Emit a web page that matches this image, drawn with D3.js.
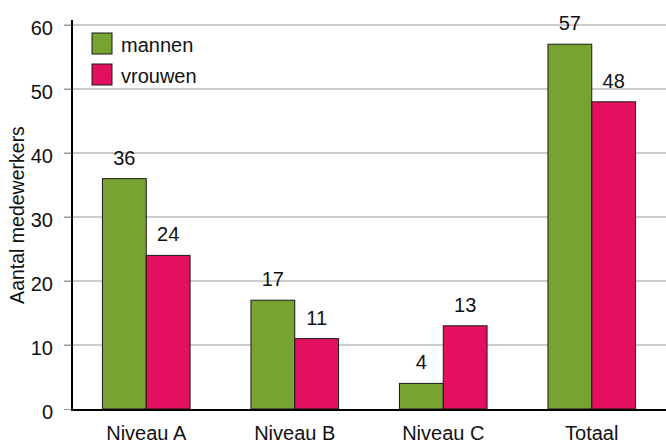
<!DOCTYPE html>
<html>
<head>
<meta charset="utf-8">
<script src="https://cdn.jsdelivr.net/npm/d3@7"></script>
<style>
  html, body { margin: 0; padding: 0; background: #fff; }
  svg text { font-family: "Liberation Sans", Arial, sans-serif; fill: #111; }
</style>
</head>
<body>
<div id="chart"></div>
<script>
var CATEGORIES = ["Niveau A", "Niveau B", "Niveau C", "Totaal"];
var SERIES     = ["mannen", "vrouwen"];
var MANNEN     = [36, 17, 4, 57];
var VROUWEN    = [24, 11, 13, 48];
var Y_TICKS    = [0, 10, 20, 30, 40, 50, 60];
var COLORS     = { mannen: "#78a232", vrouwen: "#e31060" };

var W = 666, H = 444;
var margin = { top: 25, right: 0, bottom: 35, left: 72 };
var iW = W - margin.left - margin.right;
var iH = H - margin.top - margin.bottom;
var FONT = "'Liberation Sans', Arial, sans-serif";

var svg = d3.select("#chart").append("svg")
    .attr("width", W).attr("height", H);
var g = svg.append("g")
    .attr("transform", "translate(" + margin.left + "," + margin.top + ")");

var x0 = d3.scaleBand().domain(CATEGORIES).range([0, iW])
    .paddingInner(0.41).paddingOuter(0.205);
var x1 = d3.scaleBand().domain(SERIES).range([0, x0.bandwidth()]);
var y = d3.scaleLinear().domain([0, 60]).range([iH, 0]);

// grid
g.append("g").selectAll("line").data(Y_TICKS.slice(1)).enter().append("line")
    .attr("x1", -8).attr("x2", iW)
    .attr("y1", function (d) { return y(d); })
    .attr("y2", function (d) { return y(d); })
    .attr("stroke", "#9a9a9a").attr("stroke-width", 1);

// y axis
var ya = g.append("g").call(d3.axisLeft(y).tickValues(Y_TICKS).tickSize(8).tickSizeOuter(0));
ya.select(".domain").remove();
ya.selectAll("line").attr("stroke", "#9a9a9a");
ya.selectAll("text").attr("x", -19).attr("dy", "0.46em").style("font-size", "20px")
    .style("font-family", FONT).attr("fill", "#111");

var data = CATEGORIES.map(function (c, i) {
    return { cat: c, vals: [{ key: "mannen", v: MANNEN[i] }, { key: "vrouwen", v: VROUWEN[i] }] };
});

var grp = g.selectAll(".grp").data(data).enter().append("g")
    .attr("transform", function (d) { return "translate(" + x0(d.cat) + ",0)"; });

grp.selectAll("rect").data(function (d) { return d.vals; }).enter().append("rect")
    .attr("x", function (d) { return x1(d.key); })
    .attr("width", x1.bandwidth())
    .attr("y", function (d) { return y(d.v); })
    .attr("height", function (d) { return iH - y(d.v); })
    .attr("fill", function (d) { return COLORS[d.key]; })
    .attr("stroke", "#1a1a1a").attr("stroke-width", 1);

grp.selectAll(".val").data(function (d) { return d.vals; }).enter().append("text")
    .attr("class", "val")
    .attr("x", function (d) { return x1(d.key) + x1.bandwidth() / 2; })
    .attr("y", function (d) { return y(d.v) - 14; })
    .attr("text-anchor", "middle")
    .style("font-size", "20px")
    .text(function (d) { return d.v; });

// x axis
var xa = g.append("g").attr("transform", "translate(0," + iH + ")")
    .call(d3.axisBottom(x0).tickSize(0));
xa.select(".domain").remove();
xa.selectAll("text").attr("y", 31).attr("dy", 0).style("font-size", "20px")
    .style("font-family", FONT).attr("fill", "#111");

// axis lines
g.append("line").attr("x1", 0).attr("x2", 0).attr("y1", -5).attr("y2", iH + 2)
    .attr("stroke", "#000").attr("stroke-width", 2);
g.append("line").attr("x1", -1).attr("x2", iW).attr("y1", iH + 1).attr("y2", iH + 1)
    .attr("stroke", "#000").attr("stroke-width", 2);

// axis title
svg.append("text")
    .attr("transform", "translate(24,215) rotate(-90)")
    .attr("text-anchor", "middle")
    .style("font-size", "19.5px")
    .text("Aantal medewerkers");

// legend
var leg = svg.append("g").attr("transform", "translate(92,33)");
SERIES.forEach(function (s, i) {
    var row = leg.append("g").attr("transform", "translate(0," + i * 31 + ")");
    row.append("rect").attr("width", 20).attr("height", 21)
        .attr("fill", COLORS[s]).attr("stroke", "#1a1a1a").attr("stroke-width", 1);
    row.append("text").attr("x", 29).attr("y", 18.5).style("font-size", "20px").text(s);
});
</script>
</body>
</html>
